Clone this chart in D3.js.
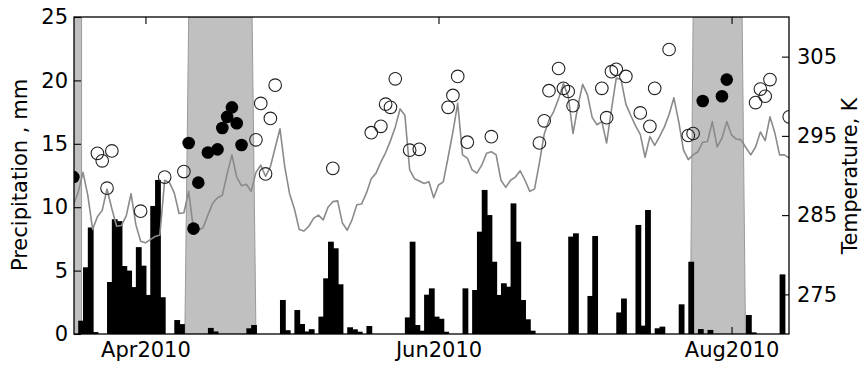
<!DOCTYPE html>
<html>
<head>
<meta charset="utf-8">
<script src="https://cdn.jsdelivr.net/npm/d3@7"></script>
<style>
  body { margin: 0; background: #fff; }
  svg text { font-family: "DejaVu Sans", sans-serif; fill: #000; }
</style>
</head>
<body>
<svg id="chart" width="863" height="365"></svg>
<script>
/* daily series start on this day */
const firstDay = "2010-03-17";

/* daily precipitation, mm (17 Mar .. 12 Aug) */
const precipitation = [
  0, 1.05, 5.26, 8.4, 0.15, 0, 0, 4.1, 9.05, 8.9,
  5.36, 5.0, 3.7, 6.85, 5.39, 3.08, 10.1, 12.15, 2.9, 0,
  0, 1.1, 0.78, 0, 0, 0, 0, 0, 0.48, 0.2,
  0, 0, 0, 0, 0, 0, 0.45, 0.71, 0, 0,
  0, 0, 0, 2.68, 0.3, 0, 1.89, 0.79, 0.2, 0.38,
  0, 1.37, 4.39, 7.28, 6.76, 3.92, 0, 0.53, 0.37, 0.18,
  0, 0.63, 0, 0, 0, 0, 0, 0, 0, 1.31,
  7.28, 0.71, 0.26, 3.1, 3.6, 1.37, 1.2, 0.18, 0, 0,
  0, 3.6, 0, 3.47, 8.07, 11.36, 9.38, 5.7, 3.08, 4.0,
  3.73, 10.3, 7.28, 2.68, 1.16, 0.26, 0, 0, 0, 0,
  0, 0, 0, 7.68, 7.94, 0, 0, 3.0, 7.73, 0,
  0, 0, 0, 1.7, 2.8, 0, 0, 8.6, 0.66, 9.78,
  0, 0.45, 0.58, 0, 0, 0, 2.34, 0, 5.7, 0,
  0.39, 0, 0.32, 0, 0, 0, 0, 0, 0, 0,
  1.5, 0.13, 0, 0, 0, 0, 0, 4.7, 0
];

/* daily air temperature, K (17 Mar .. 13 Aug) */
const temperature = [
  286.3, 287.9, 290.4, 287.5, 283.2, 284.8, 285.6, 288.3, 285.8, 283.6,
  283.7, 284.9, 287.7, 283.8, 281.7, 281.5, 281.9, 282.3, 282.5, 289.4,
  289.1, 287.8, 285.2, 285.3, 288.0, 283.2, 283.1, 283.4, 285.0, 286.5,
  287.2, 287.5, 290.2, 292.6, 289.8, 288.7, 288.9, 288.0, 290.4, 291.3,
  289.9, 291.1, 293.5, 295.9, 291.1, 287.7, 285.8, 283.2, 283.0, 283.6,
  284.6, 285.0, 284.4, 286.0, 286.7, 286.8, 284.0, 283.1, 284.4, 286.3,
  286.4, 287.8, 289.6, 290.3, 291.7, 292.9, 294.4, 296.1, 298.4, 297.6,
  290.7, 289.6, 289.3, 289.0, 289.2, 287.2, 288.8, 289.2, 292.3, 295.5,
  299.1, 292.6, 292.2, 290.7, 290.3, 291.3, 292.8, 293.0, 292.6, 289.4,
  288.5, 289.4, 289.8, 290.6, 289.4, 288.0, 288.3, 291.6, 295.2, 297.0,
  298.1, 299.7, 301.6, 300.0, 295.3, 298.7, 301.5, 300.2, 297.3, 296.4,
  296.8, 294.1, 298.3, 302.3, 302.1, 299.0, 297.6, 296.3, 295.2, 292.3,
  294.9, 293.8, 294.9, 296.1, 297.7, 299.8, 296.8, 293.2, 292.0, 292.6,
  293.0, 294.2, 294.3, 296.8, 293.6, 294.7, 296.8, 295.1, 294.6, 294.5,
  293.5, 292.6, 293.6, 295.5, 294.4, 297.4, 295.4, 292.6, 292.6, 292.2
];

/* point observations, K */
const openDates = [
  "2010-03-22", "2010-03-23", "2010-03-24", "2010-03-25", "2010-03-31", "2010-04-05",
  "2010-04-09", "2010-04-24", "2010-04-25", "2010-04-26", "2010-04-27", "2010-04-28",
  "2010-05-10", "2010-05-18", "2010-05-20", "2010-05-21", "2010-05-22", "2010-05-23",
  "2010-05-26", "2010-05-28", "2010-06-03", "2010-06-04", "2010-06-05", "2010-06-07",
  "2010-06-12", "2010-06-22", "2010-06-23", "2010-06-24", "2010-06-26", "2010-06-27",
  "2010-06-28", "2010-06-29", "2010-07-05", "2010-07-06", "2010-07-07", "2010-07-08",
  "2010-07-10", "2010-07-13", "2010-07-15", "2010-07-16", "2010-07-19", "2010-07-23",
  "2010-07-24", "2010-08-06", "2010-08-07", "2010-08-08", "2010-08-09", "2010-08-13"
];
const openTemps = [
  292.8, 291.85, 288.4, 293.1, 285.5, 289.8,
  290.5, 294.5, 299.1, 290.2, 297.2, 301.4,
  290.9, 295.4, 296.2, 299.0, 298.6, 302.2,
  293.2, 293.3, 298.6, 300.1, 302.5, 294.2,
  294.9, 294.1, 296.9, 300.7, 303.5, 301.0,
  300.6, 298.8, 301.0, 297.3, 303.1, 303.4,
  302.5, 297.9, 296.2, 301.0, 305.9, 295.05,
  295.3, 299.2, 300.9, 300.0, 302.1, 297.4
];
const filledDates = [
  "2010-03-17", "2010-04-10", "2010-04-11", "2010-04-12", "2010-04-14", "2010-04-16",
  "2010-04-17", "2010-04-18", "2010-04-19", "2010-04-20", "2010-04-21",
  "2010-07-26", "2010-07-30", "2010-07-31"
];
const filledTemps = [
  289.8, 294.1, 283.3, 289.1, 292.9, 293.3,
  296.0, 297.4, 298.6, 296.6, 293.85,
  299.4, 300.0, 302.1
];

/* shaded periods, days after 1 Apr 2010: [start, end] at top and at bottom */
const shadeTop = [[-16, -13.3], [9.0, 22.2], [114.0, 124.2]];
const shadeBottom = [[-16, -13.3], [8.2, 23.0], [113.4, 124.9]];

const precipTicks = [0, 5, 10, 15, 20, 25];
const tempTicks = [275, 285, 295, 305];
const dateTicks = ["2010-04-01", "2010-06-01", "2010-08-01"];

const parse = d3.timeParse("%Y-%m-%d");
const start = parse(firstDay);
const apr1 = parse("2010-04-01");
const dayOffset = n => new Date(apr1.getTime() + n * 864e5);

const plotLeft = 74, plotRight = 789, plotTop = 17, plotBottom = 334;
const fontSize = "21px";

const x = d3.scaleTime()
  .domain([new Date(2010, 2, 17, 3), new Date(2010, 7, 12, 23)])
  .range([plotLeft, plotRight]);
const yP = d3.scaleLinear().domain([0, 25]).range([plotBottom, plotTop]);
const yT = d3.scaleLinear().domain([270, 310]).range([plotBottom, plotTop]);

const svg = d3.select("#chart");

svg.append("defs").append("clipPath")
  .attr("id", "plotClip")
  .append("rect")
  .attr("x", plotLeft).attr("y", plotTop)
  .attr("width", plotRight - plotLeft).attr("height", plotBottom - plotTop);

const plot = svg.append("g").attr("clip-path", "url(#plotClip)");

/* shaded periods */
plot.selectAll("polygon.shade")
  .data(shadeTop.map((t, i) => ({ t, b: shadeBottom[i] })))
  .enter()
  .append("polygon")
  .attr("class", "shade")
  .attr("points", d => [
    [x(dayOffset(d.t[0])), yP(25)],
    [x(dayOffset(d.t[1])), yP(25)],
    [x(dayOffset(d.b[1])), yP(0)],
    [x(dayOffset(d.b[0])), yP(0)]
  ].join(" "))
  .attr("fill", "#c0c0c0")
  .attr("stroke", "#9a9a9a")
  .attr("stroke-width", 1);

/* precipitation bars, each one day wide (slight overlap hides seams) */
const precipData = precipitation.map((v, i) => ({ date: d3.timeDay.offset(start, i), value: v }));

plot.selectAll("rect.bar")
  .data(precipData.filter(d => d.value > 0))
  .enter()
  .append("rect")
  .attr("class", "bar")
  .attr("x", d => x(d.date))
  .attr("width", d => x(d3.timeDay.offset(d.date, 1)) - x(d.date) + 1)
  .attr("y", d => yP(d.value))
  .attr("height", d => yP(0) - yP(d.value))
  .attr("fill", "#000");

/* temperature line */
const tempData = temperature.map((v, i) => ({ date: d3.timeDay.offset(start, i), value: v }));

plot.append("path")
  .datum(tempData)
  .attr("fill", "none")
  .attr("stroke", "#8a8a8a")
  .attr("stroke-width", 1.6)
  .attr("stroke-linejoin", "round")
  .attr("d", d3.line().x(d => x(d.date)).y(d => yT(d.value)));

/* circles */
plot.selectAll("circle.open")
  .data(openDates.map((d, i) => ({ date: parse(d), value: openTemps[i] })))
  .enter()
  .append("circle")
  .attr("class", "open")
  .attr("cx", d => x(d.date))
  .attr("cy", d => yT(d.value))
  .attr("r", 6.3)
  .attr("fill", "none")
  .attr("stroke", "#222")
  .attr("stroke-width", 1.1);

plot.selectAll("circle.filled")
  .data(filledDates.map((d, i) => ({ date: parse(d), value: filledTemps[i] })))
  .enter()
  .append("circle")
  .attr("class", "filled")
  .attr("cx", d => x(d.date))
  .attr("cy", d => yT(d.value))
  .attr("r", 6.3)
  .attr("fill", "#000");

/* axes, ticks point inward */
const tickLen = 7;

const leftAxis = svg.append("g")
  .attr("transform", `translate(${plotLeft},0)`)
  .call(d3.axisLeft(yP).tickValues(precipTicks).tickSizeInner(-tickLen).tickSizeOuter(0).tickPadding(6));

const rightAxis = svg.append("g")
  .attr("transform", `translate(${plotRight},0)`)
  .call(d3.axisRight(yT).tickValues(tempTicks).tickSizeInner(-tickLen).tickSizeOuter(0).tickPadding(8));

const bottomAxis = svg.append("g")
  .attr("transform", `translate(0,${plotBottom})`)
  .call(d3.axisBottom(x).tickValues(dateTicks.map(parse)).tickFormat(d3.timeFormat("%b%Y"))
    .tickSizeInner(-tickLen).tickSizeOuter(0).tickPadding(8));

const topAxis = svg.append("g")
  .attr("transform", `translate(0,${plotTop})`)
  .call(d3.axisTop(x).tickValues(dateTicks.map(parse)).tickFormat("")
    .tickSizeInner(-tickLen).tickSizeOuter(0));

[leftAxis, rightAxis, bottomAxis, topAxis].forEach(g => {
  g.select(".domain").remove();
  g.selectAll("line").attr("stroke", "#000").attr("stroke-width", 1.1);
  g.selectAll("text").attr("font-size", fontSize).attr("font-family", "DejaVu Sans, sans-serif").attr("fill", "#000");
});

/* frame */
svg.append("rect")
  .attr("x", plotLeft).attr("y", plotTop)
  .attr("width", plotRight - plotLeft).attr("height", plotBottom - plotTop)
  .attr("fill", "none")
  .attr("stroke", "#000")
  .attr("stroke-width", 1.3);

/* axis titles */
svg.append("text")
  .attr("transform", "translate(27,175) rotate(-90)")
  .attr("text-anchor", "middle")
  .attr("font-size", fontSize)
  .text("Precipitation , mm");

svg.append("text")
  .attr("transform", "translate(857,176) rotate(-90)")
  .attr("text-anchor", "middle")
  .attr("font-size", "20.5px")
  .text("Temperature, K");
</script>
</body>
</html>
